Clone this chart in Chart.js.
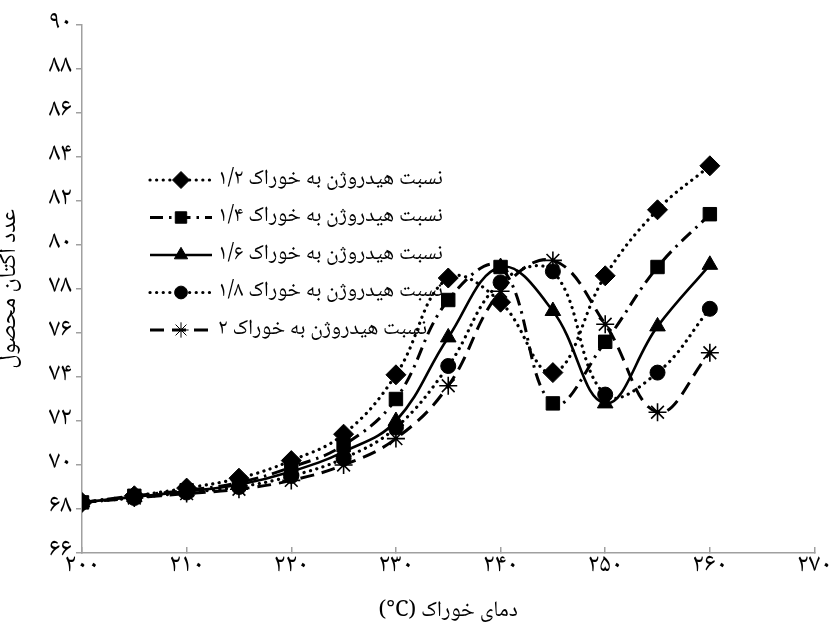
<!DOCTYPE html>
<html>
<head>
<meta charset="utf-8">
<script src="https://cdn.jsdelivr.net/npm/chart.js@4.4.1/dist/chart.umd.min.js"></script>
<style>
  html, body { margin: 0; padding: 0; background: #ffffff; }
  #wrap { width: 840px; height: 624px; position: relative; }
</style>
</head>
<body>
<div id="wrap"><canvas id="chart" dir="rtl"></canvas></div>
<script>
// Feed temperature (°C) at each measured point
const temps = [200, 205, 210, 215, 220, 225, 230, 235, 240, 245, 250, 255, 260];

// Product octane number for each hydrogen-to-feed ratio
const ratio12 = [68.3, 68.6, 68.95, 69.4, 70.2, 71.4, 74.1, 78.5, 77.4, 74.2, 78.6, 81.6, 83.6];
const ratio14 = [68.3, 68.6, 68.85, 69.2, 69.9, 70.9, 73.0, 77.5, 79.0, 72.8, 75.6, 79.0, 81.4];
const ratio16 = [68.3, 68.55, 68.8, 69.1, 69.7, 70.6, 72.0, 75.8, 79.0, 77.0, 72.8, 76.3, 79.1];
const ratio18 = [68.3, 68.5, 68.75, 69.0, 69.5, 70.3, 71.7, 74.5, 78.3, 78.8, 73.2, 74.2, 77.1];
const ratio20 = [68.3, 68.5, 68.7, 68.9, 69.3, 70.0, 71.2, 73.6, 77.9, 79.3, 76.4, 72.4, 75.1];

// Series names
const seriesNames = [
  'نسبت هیدروژن به خوراک ۱/۲',
  'نسبت هیدروژن به خوراک ۱/۴',
  'نسبت هیدروژن به خوراک ۱/۶',
  'نسبت هیدروژن به خوراک ۱/۸',
  'نسبت هیدروژن به خوراک ۲'
];

// Axis tick labels (Persian digits)
const xTickValues = [200, 210, 220, 230, 240, 250, 260, 270];
const xTickLabels = ['۲۰۰', '۲۱۰', '۲۲۰', '۲۳۰', '۲۴۰', '۲۵۰', '۲۶۰', '۲۷۰'];
const yTickValues = [66, 68, 70, 72, 74, 76, 78, 80, 82, 84, 86, 88, 90];
const yTickLabels = ['۶۶', '۶۸', '۷۰', '۷۲', '۷۴', '۷۶', '۷۸', '۸۰', '۸۲', '۸۴', '۸۶', '۸۸', '۹۰'];

// The LRM keeps the degree sign attached to the Latin unit inside the RTL title
const xTitle = 'دمای خوراک (\u200E°C)';
const yTitle = 'عدد اکتان محصول';

const FONT = "'Noto Naskh Arabic', 'Noto Sans Arabic', 'DejaVu Sans', sans-serif";
const AXIS_GREY = '#a0a0a0';

function pts(values) {
  return temps.map((t, i) => ({ x: t, y: values[i] }));
}

function series(label, values, style) {
  return Object.assign({
    label: label,
    data: pts(values),
    borderColor: '#000000',
    backgroundColor: '#000000',
    pointBackgroundColor: '#000000',
    pointBorderColor: '#000000',
    pointBorderWidth: 1,
    tension: 0.4,
    fill: false
  }, style);
}

const datasets = [
  series(seriesNames[0], ratio12, { pointStyle: 'rectRot', pointRadius: 10, borderWidth: 3.2, borderDash: [0.1, 6.5], borderCapStyle: 'round' }),
  series(seriesNames[1], ratio14, { pointStyle: 'rect', pointRadius: 9.5, borderWidth: 3, borderDash: [13, 6, 2.5, 6], borderCapStyle: 'butt' }),
  series(seriesNames[2], ratio16, { pointStyle: 'triangle', pointRadius: 9, borderWidth: 2.6, borderDash: [], borderCapStyle: 'butt' }),
  series(seriesNames[3], ratio18, { pointStyle: 'circle', pointRadius: 7.5, borderWidth: 3.2, borderDash: [0.1, 6.5], borderCapStyle: 'round' }),
  series(seriesNames[4], ratio20, { pointStyle: 'star', pointRadius: 9, pointBorderWidth: 1.6, borderWidth: 3, borderDash: [14, 8], borderCapStyle: 'butt' })
];

// Legend drawn inside the plot: key sample on the left, label to its right
const keyLegend = {
  id: 'keyLegend',
  afterDatasetsDraw(chart, args, opts) {
    const ctx = chart.ctx;
    chart.data.datasets.forEach((ds, i) => {
      const y = opts.top + i * opts.rowGap;
      ctx.save();
      ctx.strokeStyle = '#000000';
      ctx.lineWidth = ds.borderWidth;
      ctx.lineCap = ds.borderCapStyle || 'butt';
      ctx.setLineDash(ds.borderDash || []);
      ctx.beginPath();
      ctx.moveTo(opts.left, y);
      ctx.lineTo(opts.left + opts.keyWidth, y);
      ctx.stroke();
      ctx.restore();

      ctx.save();
      ctx.fillStyle = '#000000';
      ctx.strokeStyle = '#000000';
      Chart.helpers.drawPoint(ctx, {
        pointStyle: ds.pointStyle,
        radius: ds.pointRadius * 0.85,
        borderWidth: ds.pointBorderWidth || 1,
        rotation: 0
      }, opts.left + opts.keyWidth / 2, y);
      ctx.restore();

      ctx.save();
      ctx.direction = 'rtl';
      ctx.font = opts.fontSize + 'px ' + FONT;
      ctx.fillStyle = '#000000';
      ctx.textAlign = 'left';
      ctx.textBaseline = 'middle';
      ctx.fillText(ds.label, opts.left + opts.keyWidth + opts.gap, y + 1);
      ctx.restore();
    });
  }
};

new Chart(document.getElementById('chart'), {
  type: 'line',
  data: { datasets: datasets },
  plugins: [keyLegend],
  options: {
    responsive: true,
    maintainAspectRatio: false,
    animation: false,
    layout: { padding: { left: 0, right: 16, top: 25, bottom: 0 } },
    plugins: {
      legend: { display: false },
      tooltip: { enabled: false },
      keyLegend: { left: 150, top: 180, rowGap: 37.5, keyWidth: 62, gap: 6, fontSize: 21.5 }
    },
    scales: {
      x: {
        type: 'linear',
        min: 200,
        max: 270,
        afterBuildTicks: (s) => { s.ticks = xTickValues.map(v => ({ value: v })); },
        afterFit: (s) => { s.height = 71; },
        ticks: {
          autoSkip: false,
          maxRotation: 0,
          padding: 8,
          color: '#000000',
          font: { family: FONT, size: 26, lineHeight: 1 },
          callback: (v) => xTickLabels[xTickValues.indexOf(v)]
        },
        grid: { drawOnChartArea: false, drawTicks: true, tickLength: -6, color: AXIS_GREY, lineWidth: 1.5 },
        border: { display: true, color: AXIS_GREY, width: 1.5 },
        title: { display: true, text: xTitle, color: '#000000', font: { family: FONT, size: 22, lineHeight: 1 }, padding: { top: 0, bottom: 0 } }
      },
      y: {
        min: 66,
        max: 90,
        afterBuildTicks: (s) => { s.ticks = yTickValues.map(v => ({ value: v })); },
        afterFit: (s) => { s.width = 82; },
        ticks: {
          autoSkip: false,
          padding: 4,
          color: '#000000',
          font: { family: FONT, size: 26, lineHeight: 1 },
          callback: (v) => yTickLabels[yTickValues.indexOf(v)]
        },
        grid: { drawOnChartArea: false, drawTicks: true, tickLength: 6, color: AXIS_GREY, lineWidth: 1.5 },
        border: { display: true, color: AXIS_GREY, width: 1.5 },
        title: { display: true, text: yTitle, color: '#000000', font: { family: FONT, size: 24, lineHeight: 1 }, padding: { top: 0, bottom: 4 } }
      }
    }
  }
});
</script>
</body>
</html>
